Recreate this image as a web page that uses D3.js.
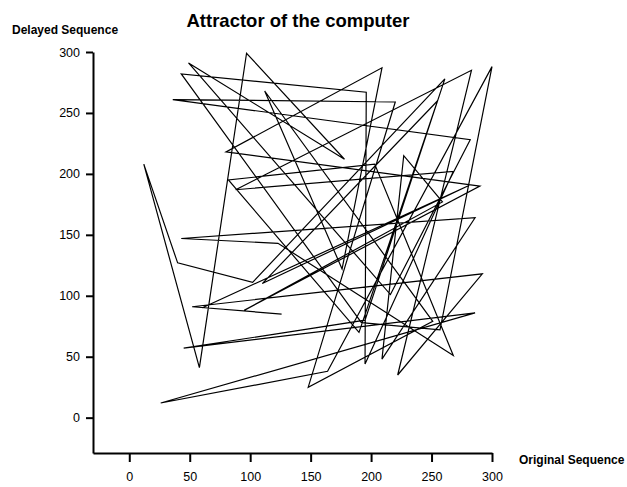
<!DOCTYPE html>
<html lang="en">
<head>
  <meta charset="UTF-8">
  <title>Attractor of the computer</title>
  <script src="https://d3js.org/d3.v7.min.js"></script>
  <style>
    body {
      margin: 0;
      background: #fff;
      font-family: "Liberation Sans", Arial, sans-serif;
    }
    .axis path, .axis line {
      stroke: #000;
      stroke-width: 2;
    }
    .axis text {
      font-size: 12.5px;
      fill: #000;
      font-family: "Liberation Sans", Arial, sans-serif;
    }
  </style>
</head>
<body>
  <svg class="chart" width="627" height="487"></svg>
  <script>
    // sequence as (original, delayed) pairs
    const originalSeq = [126, 52, 292, 222, 283, 88, 268, 195, 196, 43, 192, 257, 300, 164, 26, 286, 45, 195,
      261, 102, 40, 12, 58, 97, 178, 49, 216, 282, 36, 220, 148, 251, 112, 176, 209, 80, 290, 95,
      259, 227, 209, 286, 43, 123, 268, 203, 82, 190, 255, 110, 280, 60];
    const delayedSeq = [85, 91, 118, 35, 285, 187, 202, 44, 267, 282, 78, 72, 288, 38, 12, 86, 57, 80,
      278, 111, 127, 208, 41, 299, 212, 291, 101, 228, 261, 259, 25, 79, 268, 122, 287, 218, 190, 88,
      177, 215, 48, 164, 147, 143, 51, 208, 195, 70, 260, 110, 190, 90];
    const xTicks = [0, 50, 100, 150, 200, 250, 300];
    const yTicks = [0, 50, 100, 150, 200, 250, 300];

    const points = originalSeq.map((v, i) => [v, delayedSeq[i]]);

    const svg = d3.select(".chart");

    const x = d3.scaleLinear().domain([-30, 300]).range([93, 492]);
    const y = d3.scaleLinear().domain([-29, 300]).range([453, 52]);

    svg.append("g")
      .attr("class", "axis")
      .attr("transform", "translate(93,0)")
      .call(d3.axisLeft(y).tickValues(yTicks).tickSize(7).tickSizeOuter(0).tickPadding(6));

    svg.append("g")
      .attr("class", "axis")
      .attr("transform", "translate(0,453)")
      .call(d3.axisBottom(x).tickValues(xTicks).tickSize(9).tickSizeOuter(0).tickPadding(10));

    const line = d3.line()
      .x(d => x(d[0]))
      .y(d => y(d[1]));

    svg.append("path")
      .datum(points)
      .attr("d", line)
      .attr("fill", "none")
      .attr("stroke", "#000")
      .attr("stroke-width", 1.2);

    svg.append("text")
      .attr("x", 298)
      .attr("y", 27)
      .attr("text-anchor", "middle")
      .style("font-size", "18.5px")
      .style("font-weight", "bold")
      .text("Attractor of the computer");

    svg.append("text")
      .attr("x", 12)
      .attr("y", 34)
      .style("font-size", "12px")
      .style("font-weight", "bold")
      .text("Delayed Sequence");

    svg.append("text")
      .attr("x", 519)
      .attr("y", 464)
      .style("font-size", "12px")
      .style("font-weight", "bold")
      .text("Original Sequence");
  </script>
</body>
</html>
